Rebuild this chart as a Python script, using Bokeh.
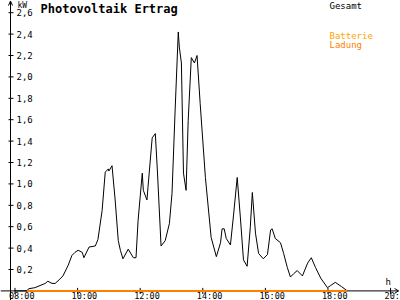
from bokeh.plotting import figure
from bokeh.embed import file_html
from bokeh.resources import INLINE
from bokeh.models import Range1d
from bokeh.core.properties import value

# ---- data ----
pv_times = ["08:00", "08:23", "08:26", "08:38", "08:48", "08:58", "09:03", "09:11", "09:17", "09:26",
            "09:32", "09:42", "09:49", "09:55", "10:01", "10:09", "10:12", "10:22", "10:34", "10:39",
            "10:47", "10:53", "10:59", "11:00", "11:06", "11:12", "11:18", "11:22", "11:27", "11:37",
            "11:47", "11:52", "11:56", "12:04", "12:06", "12:13", "12:15", "12:23", "12:29", "12:33",
            "12:40", "12:48", "12:56", "13:01", "13:07", "13:13", "13:15", "13:19", "13:23", "13:28",
            "13:32", "13:38", "13:44", "13:49", "13:55", "14:05", "14:16", "14:26", "14:34", "14:37",
            "14:41", "14:45", "14:53", "14:59", "15:06", "15:12", "15:18", "15:25", "15:31", "15:35",
            "15:41", "15:47", "15:56", "16:04", "16:10", "16:13", "16:19", "16:29", "16:35", "16:42",
            "16:48", "16:54", "17:01", "17:11", "17:21", "17:28", "17:36", "17:46", "17:59", "18:05",
            "18:14", "18:26", "18:37"]
pv_kw = [0.00, 0.00, 0.02, 0.03, 0.05, 0.07, 0.09, 0.07, 0.07, 0.11,
         0.14, 0.24, 0.33, 0.36, 0.38, 0.36, 0.31, 0.41, 0.42, 0.48,
         0.75, 1.11, 1.14, 1.12, 1.17, 0.85, 0.47, 0.38, 0.30, 0.39,
         0.31, 0.31, 0.66, 1.10, 0.94, 0.85, 0.97, 1.43, 1.47, 1.12,
         0.42, 0.47, 0.63, 0.91, 1.69, 2.42, 2.28, 2.13, 1.10, 0.94,
         1.59, 2.18, 2.13, 2.20, 1.75, 1.06, 0.50, 0.32, 0.45, 0.58,
         0.58, 0.49, 0.43, 0.71, 1.06, 0.69, 0.29, 0.23, 0.59, 0.92,
         0.54, 0.35, 0.30, 0.34, 0.57, 0.58, 0.49, 0.45, 0.35, 0.22,
         0.13, 0.16, 0.19, 0.14, 0.26, 0.31, 0.22, 0.12, 0.03, 0.05,
         0.08, 0.04, 0.00]
batt_times = ["08:23", "18:37"]
batt_kw = [0.0, 0.0]

x_ticks = [8, 10, 12, 14, 16, 18, 20]
x_tick_labels = ["08:00", "10:00", "12:00", "14:00", "16:00", "18:00", "20:00"]
y_ticks = [0.2, 0.4, 0.6, 0.8, 1.0, 1.2, 1.4, 1.6, 1.8, 2.0, 2.2, 2.4, 2.6]
y_tick_labels = ["0,2", "0,4", "0,6", "0,8", "1,0", "1,2", "1,4", "1,6", "1,8", "2,0", "2,2", "2,4", "2,6"]

title_text = "Photovoltaik Ertrag"
unit_y = "kW"
unit_x = "h"
legend_total = "Gesamt"
legend_batt = ["Batterie", "Ladung"]


def hours(s):
    h, m = s.split(":")
    return int(h) + int(m) / 60.0


W, H = 400, 300
X0, X1 = 7.537, 20.317
Y0, Y1 = -0.0897, 2.714
dx = (X1 - X0) / W
dy = (Y1 - Y0) / H


def sx(px):
    return X0 + px * dx


def sy(py):
    return Y1 - py * dy


MONO = value("DejaVu Sans Mono")

p = figure(width=W, height=H, x_range=Range1d(X0, X1), y_range=Range1d(Y0, Y1),
           x_axis_type=None, y_axis_type=None, toolbar_location=None,
           output_backend="svg", min_border=0, outline_line_color=None,
           background_fill_color="white", border_fill_color="white")
p.xgrid.visible = False
p.ygrid.visible = False

# axes
ax_x = sx(10)
p.segment(x0=[ax_x], y0=[sy(300)], x1=[ax_x], y1=[sy(0.5)], line_color="black", line_width=1)
p.segment(x0=[ax_x, ax_x], y0=[sy(0.5), sy(0.5)], x1=[sx(8), sx(12)], y1=[sy(5), sy(5)],
          line_color="black", line_width=1)
p.segment(x0=[sx(0)], y0=[0], x1=[sx(398)], y1=[0], line_color="black", line_width=1)
py0 = Y1 / dy
p.segment(x0=[sx(398), sx(398)], y0=[0, 0], x1=[sx(394), sx(394)], y1=[sy(py0 - 2.5), sy(py0 + 2.5)],
          line_color="black", line_width=1)

# ticks
p.segment(x0=x_ticks, y0=[sy(py0 - 3)] * len(x_ticks), x1=x_ticks, y1=[sy(py0 + 3)] * len(x_ticks),
          line_color="black", line_width=1)
p.segment(x0=[sx(8)] * len(y_ticks), y0=y_ticks, x1=[sx(13)] * len(y_ticks), y1=y_ticks,
          line_color="black", line_width=1)

p.text(x=x_ticks, y=[sy(300)] * len(x_ticks), text=x_tick_labels, text_font=MONO,
       text_font_size="8.5px", text_align="left", text_baseline="bottom", x_offset=-6, text_color="black")
p.text(x=[sx(16)] * len(y_ticks), y=y_ticks, text=y_tick_labels, text_font=MONO,
       text_font_size="9px", text_align="left", text_baseline="middle", text_color="black")

p.text(x=[sx(17)], y=[sy(0)], text=[unit_y], text_font=MONO, text_font_size="8px",
       text_baseline="top", text_color="black")
p.text(x=[sx(385)], y=[sy(276)], text=[unit_x], text_font=MONO, text_font_size="9px",
       text_baseline="top", text_color="black")

p.text(x=[sx(40)], y=[sy(1)], text=[title_text], text_font=MONO, text_font_size="12px",
       text_font_style="bold", text_baseline="top", text_color="black")
p.text(x=[sx(329)], y=[sy(0)], text=[legend_total], text_font=MONO, text_font_size="9px",
       text_baseline="top", text_color="black")
p.text(x=[sx(329)], y=[sy(30)], text=[legend_batt[0]], text_font=MONO, text_font_size="9px",
       text_baseline="top", text_color="#FFA500")
p.text(x=[sx(329)], y=[sy(39)], text=[legend_batt[1]], text_font=MONO, text_font_size="9px",
       text_baseline="top", text_color="#FF8000")

# series
p.line(x=[hours(t) for t in pv_times], y=pv_kw, line_color="black", line_width=1)
p.line(x=[hours(t) for t in batt_times], y=batt_kw, line_color="#FF8000", line_width=2)

open("out.html", "w").write(file_html(p, INLINE))
